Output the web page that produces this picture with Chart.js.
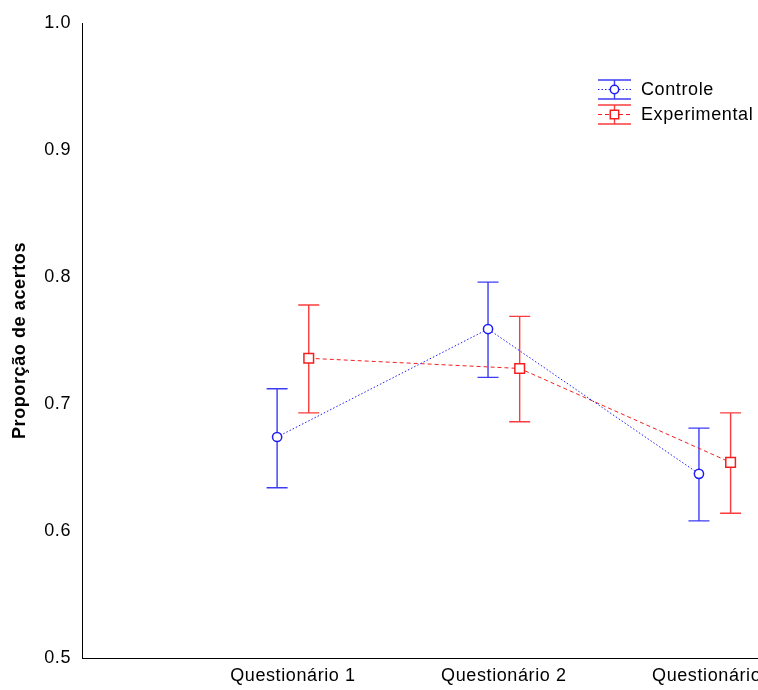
<!DOCTYPE html>
<html>
<head>
<meta charset="utf-8">
<script src="https://cdn.jsdelivr.net/npm/chart.js@4.4.1/dist/chart.umd.min.js"></script>
<style>
  html, body { margin: 0; padding: 0; background: #fff; overflow: hidden; width: 758px; height: 690px; }
  #wrap { position: relative; width: 934px; height: 690px; }
  canvas { display: block; }
</style>
</head>
<body>
<div id="wrap"><canvas id="c" width="934" height="690"></canvas></div>
<script>
// Proportion of correct answers per questionnaire, mean with interval bounds
const categories = ['Questionário 1', 'Questionário 2', 'Questionário 3'];
const seriesNames = ['Controle', 'Experimental'];

const controleMean  = [0.674, 0.759, 0.645];
const controleLower = [0.634, 0.721, 0.608];
const controleUpper = [0.712, 0.796, 0.681];

const experimentalMean  = [0.736, 0.728, 0.654];
const experimentalLower = [0.693, 0.686, 0.614];
const experimentalUpper = [0.778, 0.769, 0.693];

const yTicks = [0.5, 0.6, 0.7, 0.8, 0.9, 1.0];

const FONT = '"Liberation Sans", Arial, sans-serif';
const BLUE = 'rgb(30,30,245)';
const RED = 'rgb(245,30,30)';
const BLUE_BAR = 'rgb(60,60,245)';
const RED_BAR = 'rgb(250,60,60)';
const SHIFT = 0.075; // side-by-side offset of the two groups around each category

function points(mean, lo, hi, shift) {
  return mean.map((v, i) => ({ x: i + 1 + shift, y: v, lo: lo[i], hi: hi[i] }));
}

// Slightly wider glyph spacing for all canvas text
const spacing = {
  id: 'spacing',
  beforeLayout(chart) { chart.ctx.letterSpacing = '0.6px'; },
  beforeDraw(chart) { chart.ctx.letterSpacing = '0.6px'; }
};

// Vertical interval bars with caps, drawn under lines and markers
const errorBars = {
  id: 'errorBars',
  beforeDatasetsDraw(chart) {
    const { ctx, scales: { x, y } } = chart;
    chart.data.datasets.forEach(ds => {
      ctx.save();
      ctx.strokeStyle = ds.barColor;
      ctx.lineWidth = 1.4;
      ctx.setLineDash([]);
      ds.data.forEach(p => {
        const px = x.getPixelForValue(p.x);
        const top = y.getPixelForValue(p.hi);
        const bot = y.getPixelForValue(p.lo);
        ctx.beginPath();
        ctx.moveTo(px, top); ctx.lineTo(px, bot);
        ctx.moveTo(px - 10.5, top); ctx.lineTo(px + 10.5, top);
        ctx.moveTo(px - 10.5, bot); ctx.lineTo(px + 10.5, bot);
        ctx.stroke();
      });
      ctx.restore();
    });
  }
};

// Legend with interval-bar symbols at the upper right
const legendBox = {
  id: 'legendBox',
  afterDraw(chart) {
    const ctx = chart.ctx;
    const rows = [
      { name: seriesNames[0], y: 89.5, line: BLUE, bar: BLUE_BAR, dash: [1.5, 2], marker: 'circle' },
      { name: seriesNames[1], y: 114.5, line: RED, bar: RED_BAR, dash: [4, 3], marker: 'rect' }
    ];
    const x0 = 598, x1 = 631, xc = 614.5;
    rows.forEach(r => {
      ctx.save();
      ctx.strokeStyle = r.bar;
      ctx.lineWidth = 1.4;
      ctx.beginPath();
      ctx.moveTo(x0, r.y - 9.5); ctx.lineTo(x1, r.y - 9.5);
      ctx.moveTo(x0, r.y + 9.5); ctx.lineTo(x1, r.y + 9.5);
      ctx.moveTo(xc, r.y - 9.5); ctx.lineTo(xc, r.y + 9.5);
      ctx.stroke();
      ctx.strokeStyle = r.line;
      ctx.lineWidth = 1;
      ctx.setLineDash(r.dash);
      ctx.beginPath();
      ctx.moveTo(x0, r.y); ctx.lineTo(x1, r.y);
      ctx.stroke();
      ctx.setLineDash([]);
      ctx.fillStyle = '#fff';
      ctx.lineWidth = 1.5;
      ctx.beginPath();
      if (r.marker === 'circle') {
        ctx.arc(xc, r.y, 4.2, 0, Math.PI * 2);
      } else {
        ctx.rect(xc - 4.2, r.y - 4.2, 8.4, 8.4);
      }
      ctx.fill();
      ctx.stroke();
      ctx.fillStyle = '#000';
      ctx.font = '18px ' + FONT;
      ctx.letterSpacing = '0.6px';
      ctx.textAlign = 'left';
      ctx.textBaseline = 'middle';
      ctx.fillText(r.name, 641, r.y + 1);
      ctx.restore();
    });
  }
};

new Chart(document.getElementById('c'), {
  type: 'line',
  data: {
    datasets: [
      {
        label: seriesNames[0],
        data: points(controleMean, controleLower, controleUpper, -SHIFT),
        borderColor: BLUE,
        borderWidth: 1,
        borderDash: [1.5, 2],
        pointStyle: 'circle',
        pointRadius: 4.6,
        pointBorderWidth: 1.5,
        pointBackgroundColor: '#fff',
        pointBorderColor: BLUE,
        barColor: BLUE_BAR,
        tension: 0
      },
      {
        label: seriesNames[1],
        data: points(experimentalMean, experimentalLower, experimentalUpper, SHIFT),
        borderColor: RED,
        borderWidth: 1,
        borderDash: [4, 3],
        pointStyle: 'rect',
        pointRadius: 6.8,
        pointBorderWidth: 1.5,
        pointBackgroundColor: '#fff',
        pointBorderColor: RED,
        barColor: RED_BAR,
        tension: 0
      }
    ]
  },
  options: {
    responsive: false,
    animation: false,
    devicePixelRatio: 1,
    layout: { padding: { top: 23, left: 0, right: 0, bottom: 0 } },
    plugins: {
      legend: { display: false },
      tooltip: { enabled: false }
    },
    scales: {
      x: {
        type: 'linear',
        min: 0,
        max: 4,
        afterBuildTicks(s) { s.ticks = categories.map((_, i) => ({ value: i + 1 })); },
        afterFit(s) { s.height = 32; },
        grid: { display: false, drawTicks: false },
        border: { display: true, color: '#000', width: 1 },
        ticks: {
          padding: 7,
          color: '#000',
          maxRotation: 0,
          autoSkip: false,
          font: { family: FONT, size: 18 },
          callback: v => categories[Math.round(v) - 1] || ''
        }
      },
      y: {
        min: 0.5,
        max: 1.0,
        afterBuildTicks(s) { s.ticks = yTicks.map(v => ({ value: v })); },
        afterFit(s) { s.width = 82; },
        grid: { display: false, drawTicks: false },
        border: { display: true, color: '#000', width: 1 },
        ticks: {
          padding: 11,
          color: '#000',
          font: { family: FONT, size: 18 },
          callback: v => Number(v).toFixed(1)
        },
        title: {
          display: true,
          text: 'Proporção de acertos',
          color: '#000',
          font: { family: FONT, size: 18, weight: 'bold' },
          padding: { top: 9, bottom: 0 }
        }
      }
    }
  },
  plugins: [spacing, errorBars, legendBox]
});
</script>
</body>
</html>
